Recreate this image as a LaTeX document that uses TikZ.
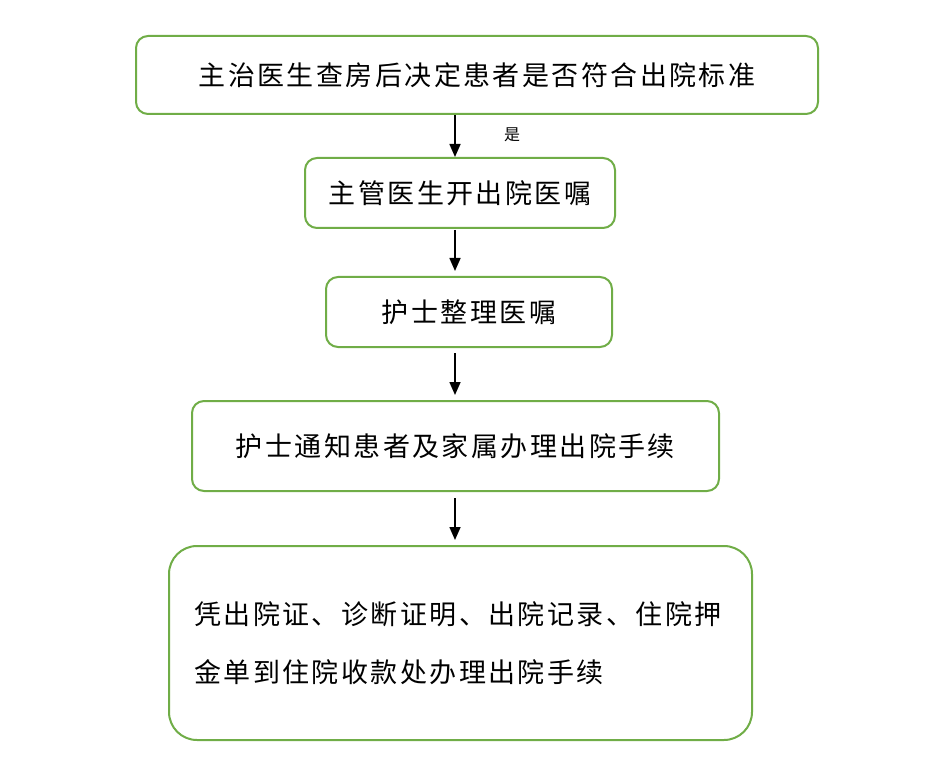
\documentclass[tikz,border=0pt]{standalone}
\usepackage{fontspec}
\usetikzlibrary{arrows.meta}
\newfontfamily\cjk[LetterSpace=9]{Noto Sans CJK SC}
\definecolor{boxgreen}{HTML}{70AD47}
\begin{document}
\begin{tikzpicture}[x=1pt,y=-1pt,
  flowbox/.style={draw=boxgreen,line width=2pt,rounded corners=12pt,fill=white,
    inner sep=0pt,font=\cjk\fontsize{27}{30}\selectfont,text=black},
  flowarrow/.style={draw=black,line width=1.6pt,-{Triangle[width=11pt,length=13pt]}}]
\useasboundingbox (0,0) rectangle (931,775);
\node[flowbox,minimum width=682pt,minimum height=78pt] (b1) at (477,75) {主治医生查房后决定患者是否符合出院标准};
\node[flowbox,minimum width=310pt,minimum height=70pt] (b2) at (460,193) {主管医生开出院医嘱};
\node[flowbox,minimum width=286pt,minimum height=70pt] (b3) at (469,312) {护士整理医嘱};
\node[flowbox,minimum width=527pt,minimum height=90pt] (b4) at (455.5,446) {护士通知患者及家属办理出院手续};
\node[flowbox,rounded corners=28pt,minimum width=583pt,minimum height=194pt] (b5) at (460.5,643) {};
\node[anchor=west,inner sep=0pt,align=left,font=\cjk\fontsize{27}{58}\selectfont] (t5) at (194,643)
  {凭出院证、诊断证明、出院记录、住院押\\金单到住院收款处办理出院手续};
\coordinate (ax) at (455,0);
\draw[flowarrow] (b1.south -| ax) -- (b2.north -| ax);
\node[font=\cjk\fontsize{16}{18}\selectfont,inner sep=0pt] (yes) at (512,135) {是};
\draw[flowarrow,shorten <=1pt,shorten >=5pt] (b2.south -| ax) -- (b3.north -| ax);
\draw[flowarrow,shorten <=5pt,shorten >=5pt] (b3.south -| ax) -- (b4.north -| ax);
\draw[flowarrow,shorten <=6pt,shorten >=5pt] (b4.south -| ax) -- (b5.north -| ax);
\end{tikzpicture}
\end{document}
